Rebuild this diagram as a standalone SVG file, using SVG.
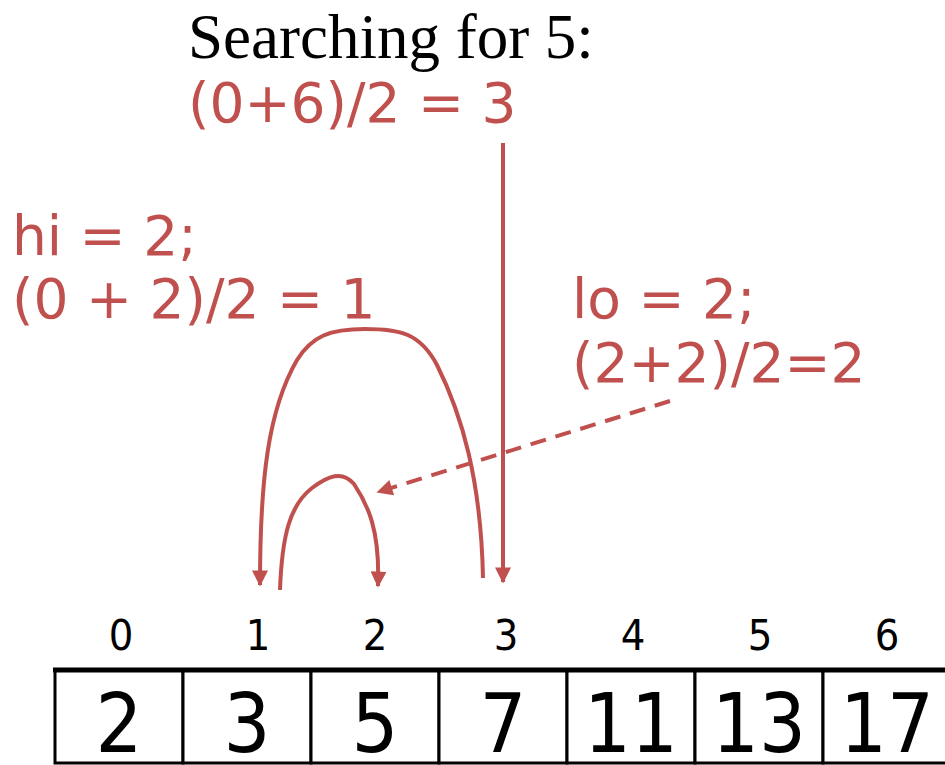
<svg xmlns="http://www.w3.org/2000/svg" width="945" height="765" viewBox="0 0 945 765">
<style>
.red{fill:#c0504d;font-family:"DejaVu Sans",Verdana,sans-serif;font-size:55px}
.idx{fill:#000;font-family:"DejaVu Sans Condensed","DejaVu Sans",sans-serif;font-size:43px;text-anchor:middle}
.val{fill:#000;font-family:"DejaVu Sans Condensed","DejaVu Sans",sans-serif;font-size:82px;text-anchor:middle}
.cell{fill:#fff;stroke:#000;stroke-width:3}
.conn{fill:none;stroke:#c0504d;stroke-width:4}
</style>
<defs>
<marker id="ah" viewBox="0 0 10 10" refX="9" refY="5" markerWidth="4.2" markerHeight="4" orient="auto" markerUnits="strokeWidth">
<path d="M0,0 L10,5 L0,10 z" fill="#c0504d"/>
</marker>
</defs>
<g id="title">
<text x="188" y="58" font-family="'Liberation Serif','Times New Roman',serif" font-size="63" fill="#000">Searching for 5:</text>
</g>
<g id="label-mid"><text class="red" x="188" y="122">(0+6)/2 = 3</text></g>
<g id="label-hi"><text class="red" x="12" y="255">hi = 2;</text><text class="red" x="12" y="318">(0 + 2)/2 = 1</text></g>
<g id="label-lo"><text class="red" x="572" y="318">lo = 2;</text><text class="red" x="572" y="382">(2+2)/2=2</text></g>
<g id="connectors">
<path class="conn" d="M503,143 L503,582" marker-end="url(#ah)"/>
<path class="conn" d="M483,578 C481,480 462,415 437,365 C420,333 400,329 365,329 C330,329 312,336 297,360 C268,410 260,480 260,585" marker-end="url(#ah)"/>
<path class="conn" d="M280,590 C282,535 290,505 312,488 C328,476 342,470 354,484 C368,505 380,530 378,586" marker-end="url(#ah)"/>
<path class="conn" d="M670,401 L378,492" stroke-dasharray="16,10" marker-end="url(#ah)"/>
</g>
<g id="array">
<rect class="cell" x="55" y="670" width="128" height="93"/>
<rect class="cell" x="183" y="670" width="128" height="93"/>
<rect class="cell" x="311" y="670" width="128" height="93"/>
<rect class="cell" x="439" y="670" width="128" height="93"/>
<rect class="cell" x="567" y="670" width="128" height="93"/>
<rect class="cell" x="695" y="670" width="128" height="93"/>
<rect class="cell" x="823" y="670" width="128" height="93"/>
<line x1="53" y1="670" x2="945" y2="670" stroke="#000" stroke-width="5"/>
<text class="val" x="119" y="752">2</text>
<text class="val" x="247" y="752">3</text>
<text class="val" x="375" y="752">5</text>
<text class="val" x="503" y="752">7</text>
<text class="val" x="631" y="752">11</text>
<text class="val" x="759" y="752">13</text>
<text class="val" x="887" y="752">17</text>
</g>
<g id="indices">
<text class="idx" x="121" y="650">0</text>
<text class="idx" x="258" y="650">1</text>
<text class="idx" x="375" y="650">2</text>
<text class="idx" x="506" y="650">3</text>
<text class="idx" x="633" y="650">4</text>
<text class="idx" x="760" y="650">5</text>
<text class="idx" x="887" y="650">6</text>
</g>
</svg>
